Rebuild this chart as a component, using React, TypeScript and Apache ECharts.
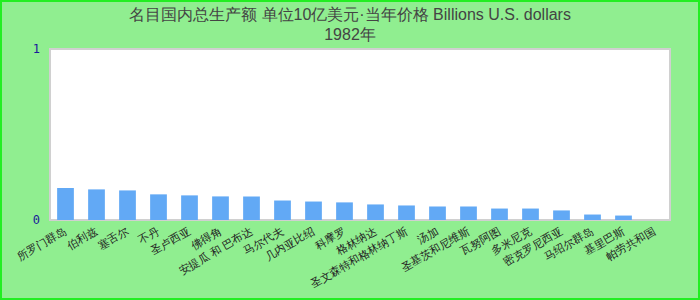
import React, { useEffect, useRef } from "react";
import * as echarts from "echarts";

const titleLine1 = "名目国内总生产额 单位10亿美元·当年价格 Billions U.S. dollars";
const titleLine2 = "1982年";

const categories = [
  "所罗门群岛",
  "伯利兹",
  "塞舌尔",
  "不丹",
  "圣卢西亚",
  "佛得角",
  "安提瓜 和 巴布达",
  "马尔代夫",
  "几内亚比绍",
  "科摩罗",
  "格林纳达",
  "圣文森特和格林纳丁斯",
  "汤加",
  "圣基茨和尼维斯",
  "瓦努阿图",
  "多米尼克",
  "密克罗尼西亚",
  "马绍尔群岛",
  "基里巴斯",
  "帕劳共和国",
];

const values = [
  0.187, 0.179, 0.173, 0.15, 0.144, 0.138, 0.138, 0.114, 0.108, 0.103,
  0.091, 0.085, 0.079, 0.079, 0.067, 0.067, 0.056, 0.032, 0.026, 0,
];

const yTicks = [0, 1];

export default function App() {
  const ref = useRef<HTMLDivElement>(null);
  useEffect(() => {
    document.body.style.margin = "0";
    const chart = echarts.init(ref.current!, null, { renderer: "svg" });
    chart.setOption({
      animation: false,
      backgroundColor: "#90ee90",
      title: {
        text: titleLine1 + "\n" + titleLine2,
        left: "center",
        top: -1,
        textStyle: {
          fontFamily: "Liberation Sans, Arial, sans-serif",
          fontSize: 16,
          fontWeight: "normal",
          color: "#444",
          lineHeight: 20,
        },
      },
      graphic: [
        {
          type: "rect",
          shape: { x: 1, y: 1, width: 698, height: 298 },
          style: { fill: "none", stroke: "#22ee22", lineWidth: 2 },
          silent: true,
        },
      ],
      grid: {
        left: 50,
        right: 30,
        top: 49,
        bottom: 80,
        show: true,
        backgroundColor: "#ffffff",
        borderColor: "#d0d0d0",
        borderWidth: 2,
      },
      xAxis: {
        type: "category",
        data: categories,
        axisLine: { show: true, lineStyle: { color: "#d0d0d0", width: 2 } },
        axisTick: { show: false },
        axisLabel: {
          interval: 0,
          rotate: 30,
          fontSize: 11,
          color: "#222",
          margin: 10,
        },
      },
      yAxis: {
        type: "value",
        min: yTicks[0],
        max: yTicks[yTicks.length - 1],
        interval: 1,
        axisLine: { show: false },
        axisTick: { show: false },
        splitLine: { show: false },
        axisLabel: {
          fontFamily: "DejaVu Sans Mono, monospace",
          fontSize: 12,
          color: "#1a1a9a",
          margin: 10,
        },
      },
      series: [
        {
          type: "bar",
          data: values,
          barWidth: "54%",
          itemStyle: { color: "#62a9f5" },
        },
      ],
    });
    return () => chart.dispose();
  }, []);
  return <div ref={ref} style={{ width: 700, height: 300 }} />;
}
